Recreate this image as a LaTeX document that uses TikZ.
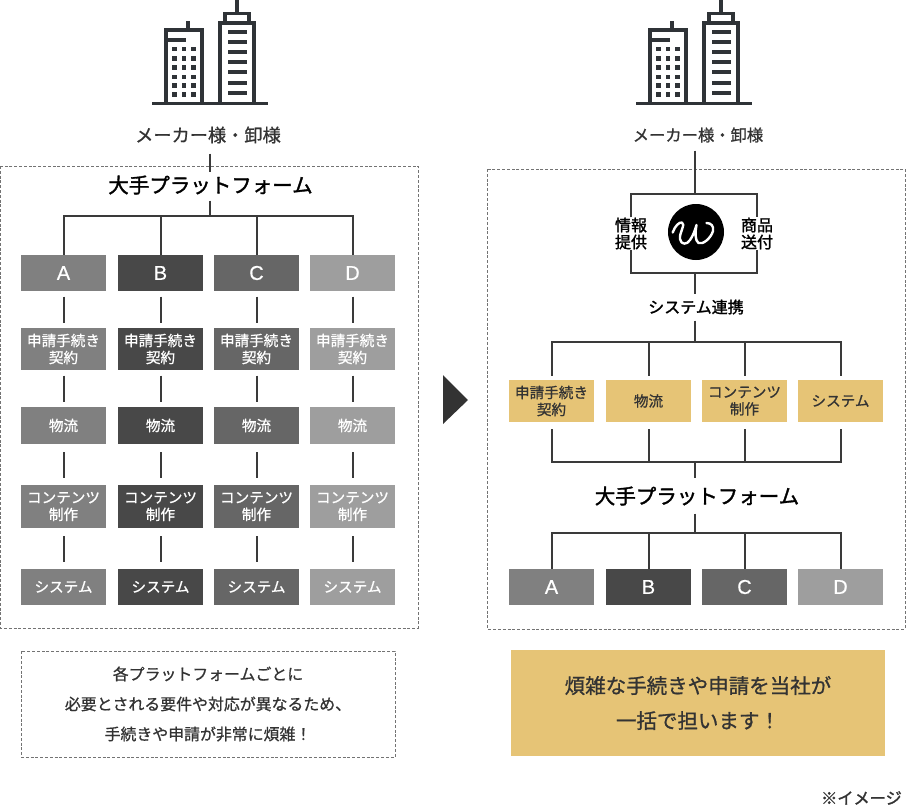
\documentclass[tikz,border=0pt]{standalone}
\usepackage{fontspec}
\setmainfont{Noto Sans CJK JP}
\newfontfamily\medfont[FakeBold=0.9]{Noto Sans CJK JP}
\newfontfamily\heavyfont[FakeBold=1.6]{Noto Sans CJK JP}
\newfontfamily\latinfont[FakeBold=0.6]{Liberation Sans}
\usetikzlibrary{calc}
\definecolor{colA}{HTML}{808080}
\definecolor{colB}{HTML}{484848}
\definecolor{colC}{HTML}{666666}
\definecolor{colD}{HTML}{9E9E9E}
\definecolor{gold}{HTML}{E6C476}
\definecolor{linec}{HTML}{3A3A3A}
\definecolor{inkc}{HTML}{333333}
\definecolor{bldc}{HTML}{2F3337}
\tikzset{
  x=1pt,y=-1pt,
  conn/.style={draw=linec,line width=2pt},
  gapped/.style={conn,shorten <=5.5pt,shorten >=5.5pt},
  cell/.style={minimum width=85pt,inner sep=0pt,outer sep=0pt,align=center,font=\fontsize{14.6}{17}\medfont},
  whitecell/.style={cell,text=white},
  goldcell/.style={cell,fill=gold,text=inkc,minimum height=42pt},
  letter/.style={font=\fontsize{20}{22}\latinfont},
  frame/.style={draw=black!55,line width=0.8pt,dash pattern=on 3pt off 1.8pt},
  lbl/.style={inner sep=0pt,align=center,text=inkc},
  title/.style={lbl,font=\fontsize{16.3}{20}\medfont},
  titlewide/.style={lbl,font=\fontsize{18.2}{20}\medfont},
  platform/.style={lbl,text=black,font=\fontsize{20.5}{24}\heavyfont},
  small/.style={lbl,text=black,font=\fontsize{16}{17}\heavyfont},
  note/.style={lbl,font=\fontsize{15.9}{30}\medfont},
  bld/.style={draw=bldc,line width=4pt},
  bldfine/.style={fill=bldc,draw=none},
  pics/tower/.style={code={
    \draw[bld,line width=3.6pt] (152,103.5) -- (268,103.5);
    \draw[bld] (166,103) -- (166,30) -- (202,30) -- (202,103);
    \draw[bld] (188,21) -- (188,30);
    \draw[bld] (168,39.5) -- (186,39.5);
    \foreach \wy in {49,58.5,67.5,77,85.5,94.5}
      \foreach \wx in {174.5,184,193.5}
        \fill[bldfine] (\wx-2.4,\wy-2.2) rectangle (\wx+2.4,\wy+2.2);
    \draw[bld] (220,103) -- (220,22.5) -- (254,22.5) -- (254,103);
    \draw[bld,line width=3.6pt] (225,21) -- (225,13.5) -- (249,13.5) -- (249,21);
    \draw[bld] (237,0) -- (237,13.5);
    \foreach \wy in {32,42,52,62,72,82.5,93}
      \fill[bldfine] (228,\wy-2) rectangle (247,\wy+2);
  }}
}
\begin{document}
\begin{tikzpicture}
\useasboundingbox (0,0) rectangle (906,806);
% buildings
\pic at (0,0) {tower};
\pic at (484,0) {tower};
% frames
\draw[frame] (0.5,166) rectangle (418,628);
\draw[frame] (487.5,169) rectangle (905,629);
% LEFT
\node[titlewide] (ltitle) at (208,135) {メーカー様・卸様};
\node[platform] (lplat) at (210.5,185) {大手プラットフォーム};
\coordinate (lbus) at (210,216);
\foreach \n/\x/\c/\L in {a/63.5/colA/A,b/160.5/colB/B,c/256.5/colC/C,d/352.5/colD/D}{
  \node[whitecell,fill=\c,minimum height=36pt,letter] (\n1) at (\x,273) {\L};
  \node[whitecell,fill=\c,minimum height=42pt] (\n2) at (\x,349) {申請手続き\\契約};
  \node[whitecell,fill=\c,minimum height=37pt] (\n3) at (\x,425.5) {物流};
  \node[whitecell,fill=\c,minimum height=43pt] (\n4) at (\x,506.5) {コンテンツ\\制作};
  \node[whitecell,fill=\c,minimum height=36pt] (\n5) at (\x,587) {システム};
  \draw[conn] (lbus -| \n1.north) -- (\n1.north);
  \draw[gapped] (\n1.south) -- (\n2.north);
  \draw[gapped] (\n2.south) -- (\n3.north);
  \draw[gapped,shorten >=7pt,shorten <=8pt] (\n3.south) -- (\n4.north);
  \draw[gapped,shorten >=7pt,shorten <=8pt] (\n4.south) -- (\n5.north);
}
\draw[conn,line cap=rect] (lbus -| a1.north) -- (lbus -| d1.north);
\draw[conn,shorten <=6pt] (lplat.south -| lbus) -- (lbus);
\draw[conn,shorten <=10pt,shorten >=3pt] (ltitle.south -| lbus) -- (lplat.north -| lbus);
% arrow
\fill[inkc] (443,375) -- (468,400) -- (443,424) -- cycle;
% RIGHT
\node[title] (rtitle) at (698,135) {メーカー様・卸様};
\node[circle,fill=black,minimum size=56pt,inner sep=0pt] (logo) at (696,232) {};
\draw[white,line width=2.4pt,line cap=round,line join=round]
  (672.7,232.5) .. controls (675,226) and (679,222) .. (682,222.5) .. controls (686,224) and (679,233) .. (680,239)
  .. controls (681,245) and (687,245) .. (690,240) .. controls (693,236) and (695,230) .. (696.5,225)
  .. controls (695,232) and (695,241) .. (698.5,243) .. controls (703,245) and (711,238) .. (713,231)
  .. controls (714,226) and (711,223) .. (706.5,223);
\node[small] (info) at (631,233.5) {情報\\提供};
\node[small] (goods) at (757,233.5) {商品\\送付};
\coordinate (boxtop) at (695,193.5);
\coordinate (boxbot) at (695,273);
\draw[conn] (info.north) -- (info.north |- boxtop) -- (goods.north |- boxtop) -- (goods.north);
\draw[conn] (info.south) -- (info.south |- boxbot) -- (goods.south |- boxbot) -- (goods.south);
\draw[conn,shorten <=8pt] (rtitle.south -| boxtop) -- (boxtop);
\node[small] (link) at (696,307) {システム連携};
\draw[conn,shorten >=5pt] (boxbot) -- (link.north -| boxbot);
\coordinate (rbus) at (695,342);
\draw[conn,shorten <=6pt] (link.south -| rbus) -- (rbus);
\node[goldcell] (g1) at (551.5,401) {申請手続き\\契約};
\node[goldcell] (g2) at (648.5,401) {物流};
\node[goldcell] (g3) at (744.5,401) {コンテンツ\\制作};
\node[goldcell] (g4) at (840.5,401) {システム};
\coordinate (gbus) at (695,462);
\node[platform] (rplat) at (697,496) {大手プラットフォーム};
\foreach \n in {g1,g2,g3,g4}{
  \draw[conn,shorten >=4pt] (rbus -| \n.north) -- (\n.north);
  \draw[conn,shorten <=7pt] (\n.south) -- (gbus -| \n.south);
}
\draw[conn,line cap=rect] (rbus -| g1.north) -- (rbus -| g4.north);
\draw[conn,line cap=rect] (gbus -| g1.south) -- (gbus -| g4.south);
\draw[conn,shorten >=8pt] (gbus) -- (gbus |- rplat.north);
\coordinate (pbus) at (695,533);
\draw[conn,shorten <=8pt] (gbus |- rplat.south) -- (pbus);
\foreach \n/\x/\c/\L in {p/551.5/colA/A,q/648.5/colB/B,r/744.5/colC/C,s/840.5/colD/D}{
  \node[whitecell,fill=\c,minimum height=36pt,letter] (\n) at (\x,587) {\L};
  \draw[conn] (pbus -| \n.north) -- (\n.north);
}
\draw[conn,line cap=rect] (pbus -| p.north) -- (pbus -| s.north);
% notes
\node[frame,draw,minimum width=374pt,minimum height=106pt,inner sep=0pt] (lnotebox) at (208,704) {};
\node[note] (lnote) at (lnotebox.center) {各プラットフォームごとに\\必要とされる要件や対応が異なるため、\\手続きや申請が非常に煩雑！};
\node[fill=gold,minimum width=374pt,minimum height=106pt,inner sep=0pt,lbl,font=\fontsize{20.5}{35}\medfont] (rnote) at (698,703) {煩雑な手続きや申請を当社が\\一括で担います！};
\node[lbl,anchor=east,text=inkc,font=\fontsize{16.2}{18}\heavyfont] (imgnote) at (902,798) {※イメージ};
\end{tikzpicture}
\end{document}
